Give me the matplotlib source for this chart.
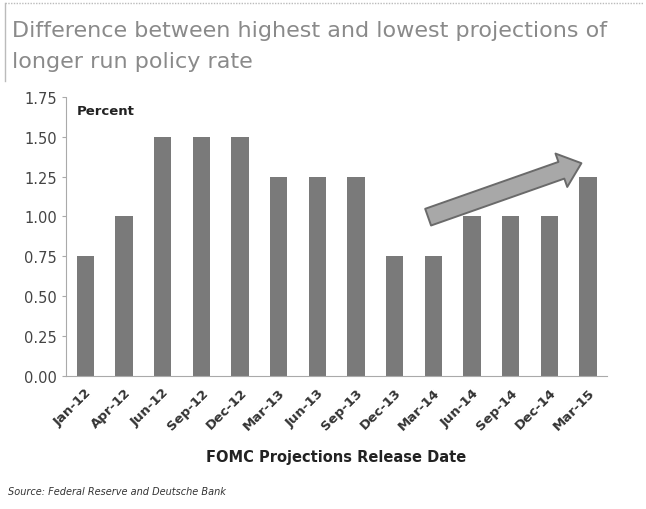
import matplotlib.pyplot as plt
from matplotlib.patches import FancyArrowPatch

dates = ["Jan-12", "Apr-12", "Jun-12", "Sep-12", "Dec-12", "Mar-13", "Jun-13",
         "Sep-13", "Dec-13", "Mar-14", "Jun-14", "Sep-14", "Dec-14", "Mar-15"]
spread = [0.75, 1.00, 1.50, 1.50, 1.50, 1.25, 1.25, 1.25, 0.75, 0.75, 1.00, 1.00, 1.00, 1.25]
yticks = [0.00, 0.25, 0.50, 0.75, 1.00, 1.25, 1.50, 1.75]

fig = plt.figure(figsize=(6.46, 5.10), dpi=100)
ax = fig.add_axes([0.102, 0.261, 0.838, 0.547])

x = range(len(dates))
ax.bar(x, spread, width=0.45, color="#7a7a7a", zorder=2)

ax.set_xlim(-0.5, len(dates) - 0.5)
ax.set_ylim(0, 1.75)
ax.set_yticks(yticks)
ax.set_yticklabels([f"{v:.2f}" for v in yticks], fontsize=10.5, color="#444444")
ax.set_xticks(list(x))
ax.set_xticklabels(dates, rotation=45, ha="right", rotation_mode="anchor",
                   fontsize=9.5, fontweight="bold", color="#333333")
ax.tick_params(axis="both", length=3, color="#aaaaaa")
ax.tick_params(axis="x", length=0, pad=7)

for s in ["top", "right"]:
    ax.spines[s].set_visible(False)
for s in ["left", "bottom"]:
    ax.spines[s].set_color("#aaaaaa")
    ax.spines[s].set_linestyle((0, (1, 1)))

ax.text(0.02, 0.975, "Percent", transform=ax.transAxes, fontsize=9.5,
        fontweight="bold", color="#222222", va="top")
ax.set_xlabel("FOMC Projections Release Date", fontsize=10.5, fontweight="bold",
              color="#222222", labelpad=12)

# upward trend arrow
arrow = FancyArrowPatch((8.8, 0.99), (12.9, 1.34),
                        arrowstyle="simple,head_width=1.5,head_length=0.9,tail_width=0.75",
                        mutation_scale=17, facecolor="#a8a8a8", edgecolor="#6a6a6a",
                        linewidth=1.4, zorder=3)
ax.add_patch(arrow)

# title block
fig.text(0.019, 0.94, "Difference between highest and lowest projections of",
         fontsize=16, color="#8a8a8a", va="center")
fig.text(0.019, 0.878, "longer run policy rate", fontsize=16, color="#8a8a8a", va="center")
fig.add_artist(plt.Line2D([0.008, 0.995], [0.993, 0.993], color="#bbbbbb",
                          linestyle=(0, (1, 1)), linewidth=1))
fig.add_artist(plt.Line2D([0.008, 0.008], [0.84, 0.993], color="#bbbbbb", linewidth=1))

fig.text(0.012, 0.03, "Source: Federal Reserve and Deutsche Bank", fontsize=7,
         style="italic", color="#333333")

fig.savefig("out.png", dpi=100)
